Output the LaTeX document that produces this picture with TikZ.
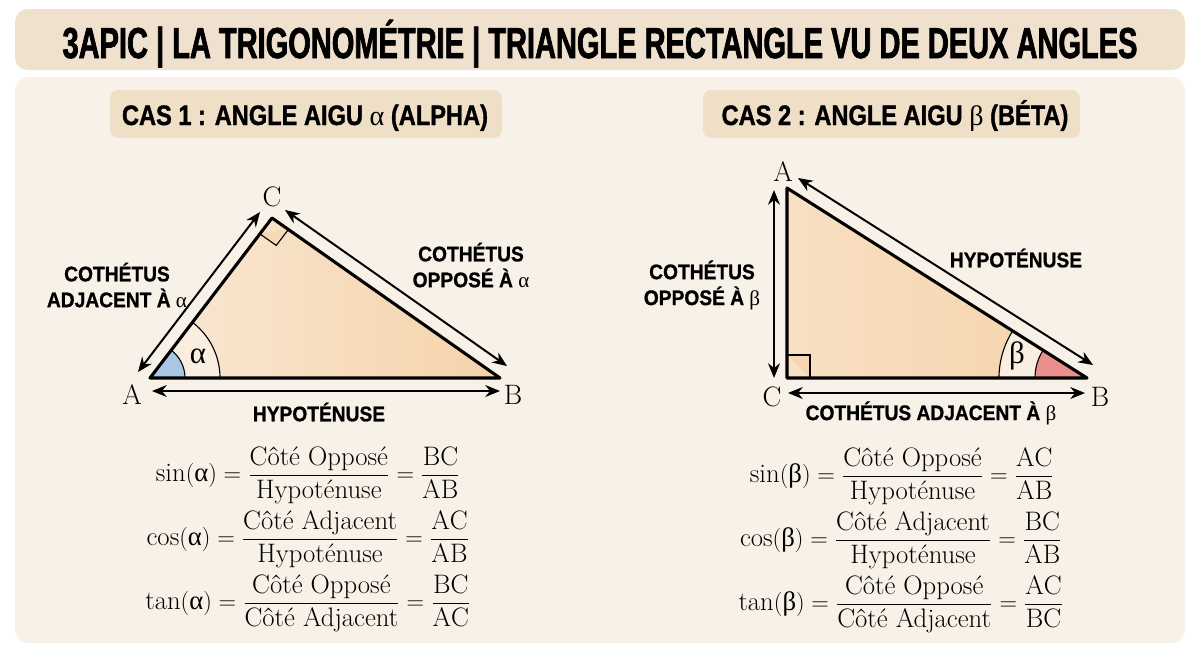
\documentclass[tikz,border=0pt]{standalone}
\usepackage{amsmath}
\usepackage{fontspec}
\usepackage{tikz}
\usetikzlibrary{arrows.meta}
\usetikzlibrary{calc}
\usetikzlibrary{angles}

\newfontfamily\titlefont[FakeStretch=0.67,BoldFeatures={FakeBold=1.6}]{Liberation Sans}
\newfontfamily\headfont[FakeStretch=0.84,BoldFeatures={FakeBold=1.2}]{Liberation Sans}
\newfontfamily\labelfont[FakeStretch=0.91,BoldFeatures={FakeBold=1}]{Liberation Sans}
\newfontfamily\greekfont{Liberation Serif}
\newcommand{\ualpha}{\text{\greekfont α}}
\newcommand{\ubeta}{\text{\greekfont β}}

\definecolor{fondo}{HTML}{F8F1E7}
\definecolor{barra}{HTML}{EFE1CD}
\definecolor{cartouche}{HTML}{F0DFC7}
\definecolor{chiaro}{HTML}{F9E8D4}
\definecolor{scuro}{HTML}{F5D3AA}
\definecolor{bleu}{HTML}{A9C7E4}
\definecolor{rouge}{HTML}{E9908C}
\definecolor{creme}{HTML}{FAEEE0}

\tikzset{
	lato/.style={line width=2.2pt, line join=round},
	freccia/.style={line width=1.4pt, {Stealth[length=10.5pt,width=8.5pt]}-{Stealth[length=10.5pt,width=8.5pt]}},
	etichetta/.style={font=\labelfont\bfseries\fontsize{15}{18.4}\selectfont, align=center},
	intestazione/.style={font=\headfont\bfseries\fontsize{20}{24}\selectfont, anchor=base},
	vertice/.style={font=\fontsize{20}{24}\selectfont},
	formula/.style={font=\fontsize{19}{22}\selectfont},
}

\begin{document}
\begin{tikzpicture}[x=0.025cm,y=0.025cm]
	\useasboundingbox (0,0) rectangle (1200,-654);
	\fill[white] (0,0) rectangle (1200,-654);
	
	%TITRE
	\fill[barra, rounded corners=9pt] (15,-9) rectangle (1185,-70);
	\node[font=\titlefont\bfseries\fontsize{30.8}{34}\selectfont, anchor=base] (titre) at (600,-58) {3APIC | LA TRIGONOMÉTRIE | TRIANGLE RECTANGLE VU DE DEUX ANGLES};
	
	%FOND
	\fill[fondo, rounded corners=10pt] (15,-77) rectangle (1185,-643);
	
	
	
	%CAS 1
	\fill[cartouche, rounded corners=6pt] (110,-90) rectangle (502,-138);
	\node[intestazione] (cas1) at (305,-125) {CAS 1 : ANGLE AIGU {\greekfont\mdseries α} (ALPHA)};
	
	\coordinate (A1) at (150,-378);
	\coordinate (B1) at (500,-378);
	\coordinate (C1) at (272,-218);
	\shade[left color=chiaro, right color=scuro] (A1) -- (B1) -- (C1) -- cycle;
	
	%angolo
	\pic[fill=creme, angle radius=1.75cm] {angle=B1--A1--C1};
	\pic[draw, line width=0.8pt, angle radius=1.75cm] {angle=B1--A1--C1};
	\pic[fill=bleu, draw, line width=0.8pt, angle radius=0.875cm] {angle=B1--A1--C1};
	\node[font=\greekfont\fontsize{22}{24}\selectfont] (alpha) at (198,-356) {α};
	
	%angolo retto
	\coordinate (q1a) at ($(C1)!0.5cm!(A1)$);
	\coordinate (q1b) at ($(C1)!0.5cm!(B1)$);
	\filldraw[fill=scuro!70!chiaro, line width=0.8pt] (q1a) -- ($(q1a)+(q1b)-(C1)$) -- (q1b);
	
	%linee
	\draw[lato] (A1) -- (B1) -- (C1) -- cycle;
	
	%frecce
	\coordinate (f1a) at (138,-372);
	\coordinate (f1b) at (260,-212);
	\coordinate (f1c) at (285,-210);
	\coordinate (f1d) at (507,-366);
	\coordinate (f1e) at (152,-391);
	\coordinate (f1f) at (500,-391);
	\draw[freccia] (f1a) -- (f1b);
	\draw[freccia] (f1c) -- (f1d);
	\draw[freccia] (f1e) -- (f1f);
	
	\node[vertice] (lA1) at (132,-395) {A};
	\node[vertice] (lB1) at (513,-395) {B};
	\node[vertice] (lC1) at (272,-197) {C};
	\node[etichetta] (adj1) at (117,-285) {COTHÉTUS\\ADJACENT À {\greekfont\mdseries α}};
	\node[etichetta] (opp1) at (471,-265) {COTHÉTUS\\OPPOSÉ À {\greekfont\mdseries α}};
	\node[etichetta] (hyp1) at (319,-412) {HYPOTÉNUSE};
	
	\node[formula] (sin1) at (308,-475) {$\sin(\ualpha) = \dfrac{\text{Côté Opposé}}{\text{Hypoténuse}} = \dfrac{\mathrm{BC}}{\mathrm{AB}}$};
	\node[formula] (cos1) at (308,-539) {$\cos(\ualpha) = \dfrac{\text{Côté Adjacent}}{\text{Hypoténuse}} = \dfrac{\mathrm{AC}}{\mathrm{AB}}$};
	\node[formula] (tan1) at (308,-603) {$\tan(\ualpha) = \dfrac{\text{Côté Opposé}}{\text{Côté Adjacent}} = \dfrac{\mathrm{BC}}{\mathrm{AC}}$};
	
	
	
	%CAS 2
	\fill[cartouche, rounded corners=6pt] (703,-90) rectangle (1080,-138);
	\node[intestazione] (cas2) at (895,-125) {CAS 2 : ANGLE AIGU {\greekfont\mdseries β} (BÉTA)};
	
	\coordinate (A2) at (787,-188);
	\coordinate (B2) at (1087,-378);
	\coordinate (C2) at (787,-378);
	\shade[left color=chiaro!60!scuro, right color=scuro] (A2) -- (B2) -- (C2) -- cycle;
	
	%angolo
	\pic[fill=creme, angle radius=2.2cm] {angle=A2--B2--C2};
	\pic[draw, line width=0.8pt, angle radius=2.2cm] {angle=A2--B2--C2};
	\pic[fill=rouge, draw, line width=0.8pt, angle radius=1.3cm] {angle=A2--B2--C2};
	\node[font=\greekfont\fontsize{22}{24}\selectfont] (beta) at (1017,-356) {β};
	
	%angolo retto
	\coordinate (q2a) at ($(C2)!0.575cm!(A2)$);
	\coordinate (q2b) at ($(C2)!0.575cm!(B2)$);
	\filldraw[fill=scuro!85!chiaro, line width=0.8pt] (q2a) -- ($(q2a)+(q2b)-(C2)$) -- (q2b);
	
	%linee
	\draw[lato] (A2) -- (B2) -- (C2) -- cycle;
	
	%frecce
	\coordinate (f2a) at (774,-190);
	\coordinate (f2b) at (774,-378);
	\coordinate (f2c) at (788,-393);
	\coordinate (f2d) at (1085,-393);
	\coordinate (f2e) at (798,-178);
	\coordinate (f2f) at (1093,-365);
	\draw[freccia] (f2a) -- (f2b);
	\draw[freccia] (f2c) -- (f2d);
	\draw[freccia] (f2e) -- (f2f);
	
	\node[vertice] (lA2) at (783,-172) {A};
	\node[vertice] (lB2) at (1100,-397) {B};
	\node[vertice] (lC2) at (772,-397) {C};
	\node[etichetta] (opp2) at (702,-285) {COTHÉTUS\\OPPOSÉ À {\greekfont\mdseries β}};
	\node[etichetta] (hyp2) at (1016,-258) {HYPOTÉNUSE};
	\node[etichetta] (adj2) at (931,-413) {COTHÉTUS ADJACENT À {\greekfont\mdseries β}};
	
	\node[formula] (sin2) at (902,-476) {$\sin(\ubeta) = \dfrac{\text{Côté Opposé}}{\text{Hypoténuse}} = \dfrac{\mathrm{AC}}{\mathrm{AB}}$};
	\node[formula] (cos2) at (901,-540) {$\cos(\ubeta) = \dfrac{\text{Côté Adjacent}}{\text{Hypoténuse}} = \dfrac{\mathrm{BC}}{\mathrm{AB}}$};
	\node[formula] (tan2) at (901,-604) {$\tan(\ubeta) = \dfrac{\text{Côté Opposé}}{\text{Côté Adjacent}} = \dfrac{\mathrm{AC}}{\mathrm{BC}}$};
	
	
\end{tikzpicture}
\end{document}
